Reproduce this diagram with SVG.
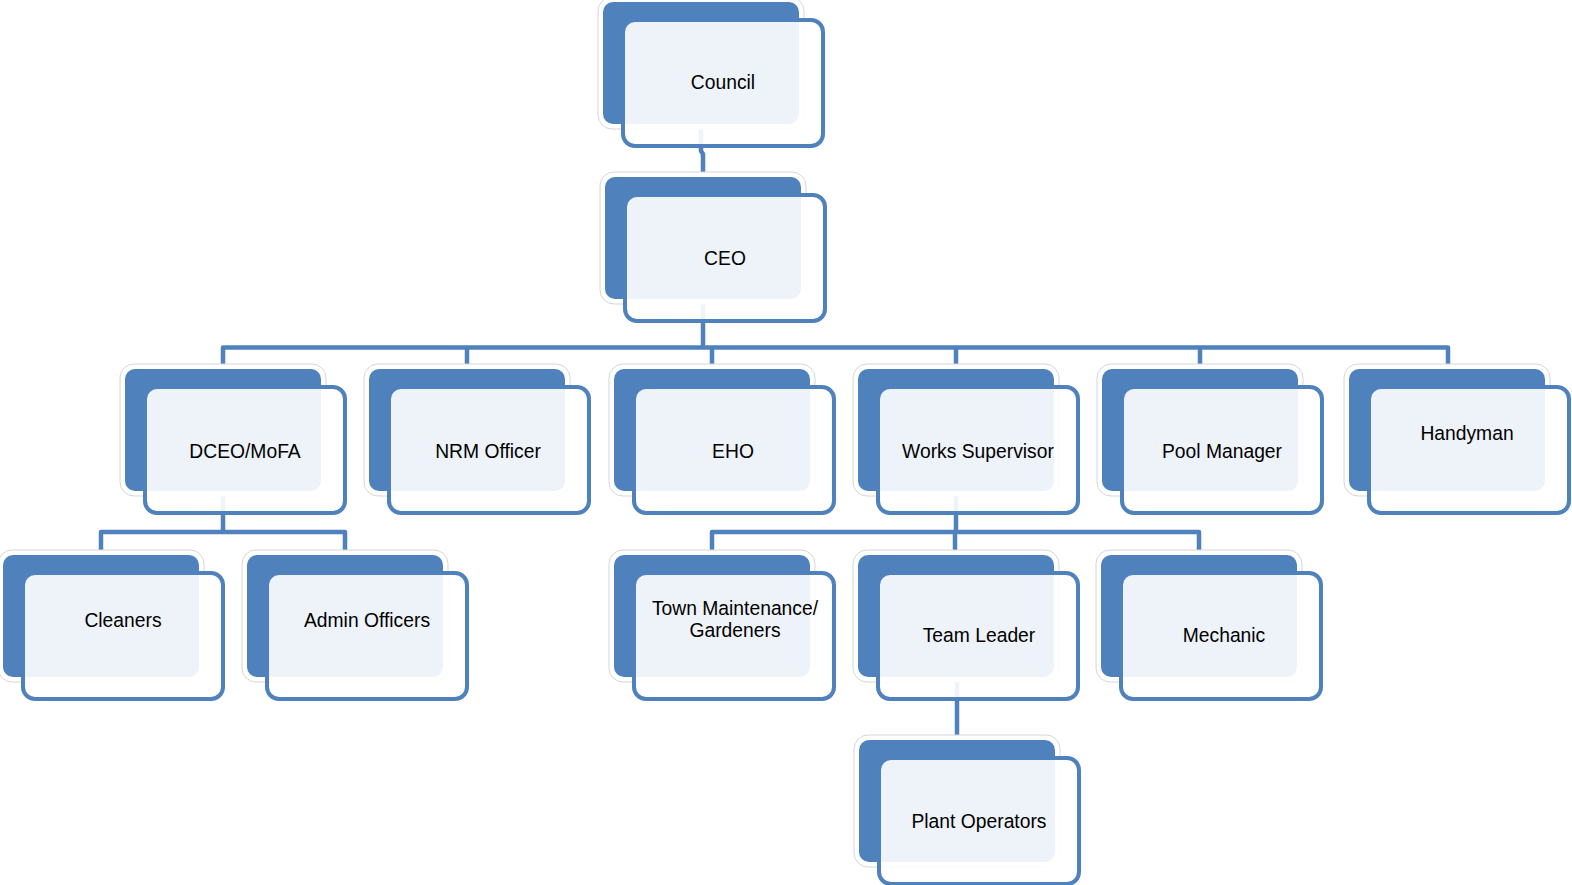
<svg xmlns="http://www.w3.org/2000/svg" width="1572" height="885" viewBox="0 0 1572 885">
<style>
.halo{fill:#ffffff;stroke:#d6d6d6;stroke-width:1}
.back{fill:#4f81bd}
.front{fill:#ffffff;fill-opacity:0.9;stroke:#4f81bd;stroke-width:4}
.lbl{font-family:"Liberation Sans",Arial,sans-serif;font-size:19.3px;fill:#000000;text-anchor:middle}
.conn{fill:none;stroke:#4f81bd;stroke-width:4.5;stroke-linejoin:round}
</style>
<defs>
<g id="shape">
<rect class="halo" x="-5" y="-5" width="206" height="132" rx="14"/>
<rect class="back" x="0" y="0" width="196" height="122" rx="10"/>
<rect class="front" x="20" y="18" width="200" height="126" rx="12"/>
</g>
</defs>
<rect width="1572" height="885" fill="#ffffff"/>
<g id="connectors">
<path class="conn" d="M701,120 V151 L703,154 V177"/>
<path class="conn" d="M703,290 V347.5"/>
<path class="conn" d="M223,369 V347.5 H1448 V369"/>
<path class="conn" d="M467,347.5 V369"/>
<path class="conn" d="M712,347.5 V369"/>
<path class="conn" d="M956,347.5 V369"/>
<path class="conn" d="M1200,347.5 V369"/>
<path class="conn" d="M223,480 V532"/>
<path class="conn" d="M101,555 V532 H345 V555"/>
<path class="conn" d="M956,480 V532"/>
<path class="conn" d="M712,555 V532 H1199 V555"/>
<path class="conn" d="M955,532 V555"/>
<path class="conn" d="M957,670 V740"/>
</g>
<g id="council"><use href="#shape" x="603" y="2"/><text class="lbl" x="723" y="89">Council</text></g>
<g id="ceo"><use href="#shape" x="605" y="177"/><text class="lbl" x="725" y="265">CEO</text></g>
<g id="dceo"><use href="#shape" x="125" y="369"/><text class="lbl" x="245" y="458">DCEO/MoFA</text></g>
<g id="nrm"><use href="#shape" x="369" y="369"/><text class="lbl" x="488" y="458">NRM Officer</text></g>
<g id="eho"><use href="#shape" x="614" y="369"/><text class="lbl" x="733" y="458">EHO</text></g>
<g id="works"><use href="#shape" x="858" y="369"/><text class="lbl" x="978" y="458">Works Supervisor</text></g>
<g id="pool"><use href="#shape" x="1102" y="369"/><text class="lbl" x="1222" y="458">Pool Manager</text></g>
<g id="handyman"><use href="#shape" x="1349" y="369"/><text class="lbl" x="1467" y="440">Handyman</text></g>
<g id="cleaners"><use href="#shape" x="3" y="555"/><text class="lbl" x="123" y="627">Cleaners</text></g>
<g id="admin"><use href="#shape" x="247" y="555"/><text class="lbl" x="367" y="627">Admin Officers</text></g>
<g id="town"><use href="#shape" x="614" y="555"/><text class="lbl" x="735" y="615">Town Maintenance/</text><text class="lbl" x="735" y="637">Gardeners</text></g>
<g id="team"><use href="#shape" x="858" y="555"/><text class="lbl" x="979" y="642">Team Leader</text></g>
<g id="mechanic"><use href="#shape" x="1101" y="555"/><text class="lbl" x="1224" y="642">Mechanic</text></g>
<g id="plant"><use href="#shape" x="859" y="740"/><text class="lbl" x="979" y="828">Plant Operators</text></g>
</svg>
